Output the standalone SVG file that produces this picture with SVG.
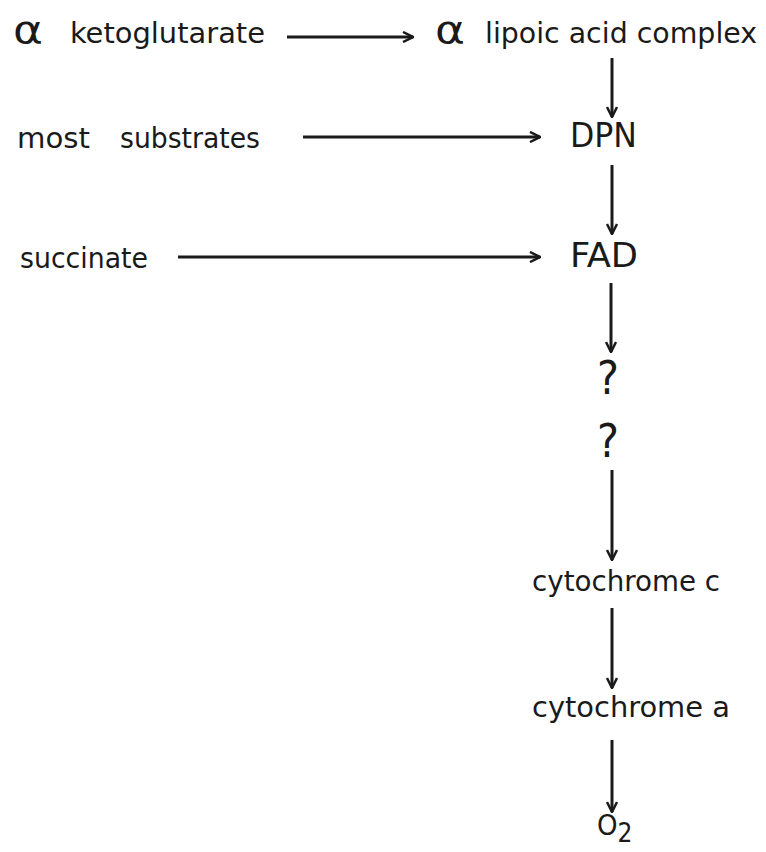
<svg xmlns="http://www.w3.org/2000/svg" width="766" height="852" viewBox="0 0 766 852">
<style>
text{font-family:"DejaVu Sans Condensed","DejaVu Sans","Liberation Sans",sans-serif;font-size:29px;fill:#1a1a1a}
.a{font-size:38px;font-family:"DejaVu Sans","Liberation Sans",sans-serif}
.cap{font-size:33px}
.q{font-size:46px}
.c line{stroke:#1a1a1a;stroke-width:3;fill:none}
</style>
<defs>
<marker id="ah" viewBox="0 0 12 12" refX="11" refY="6" markerWidth="12" markerHeight="12" markerUnits="userSpaceOnUse" orient="auto">
<path d="M1,1 L11,6 L1,11" fill="none" stroke="#1a1a1a" stroke-width="2.5"/>
</marker>
</defs>
<rect width="766" height="852" fill="#ffffff"/>
<g class="c" id="connectors">
<line x1="287" y1="37" x2="413" y2="37" marker-end="url(#ah)"/>
<line x1="612" y1="58" x2="612" y2="117" marker-end="url(#ah)"/>
<line x1="303" y1="137" x2="540" y2="137" marker-end="url(#ah)"/>
<line x1="612" y1="165" x2="612" y2="234" marker-end="url(#ah)"/>
<line x1="178" y1="257" x2="540" y2="257" marker-end="url(#ah)"/>
<line x1="611" y1="283" x2="611" y2="352" marker-end="url(#ah)"/>
<line x1="612" y1="470" x2="612" y2="560" marker-end="url(#ah)"/>
<line x1="612" y1="608" x2="612" y2="688" marker-end="url(#ah)"/>
<line x1="612" y1="740" x2="612" y2="812" marker-end="url(#ah)"/>
</g>
<g id="n-akg"><text x="13" y="43"><tspan class="a" textLength="30" lengthAdjust="spacingAndGlyphs">α</tspan> <tspan x="70" textLength="195" lengthAdjust="spacingAndGlyphs">ketoglutarate</tspan></text></g>
<g id="n-lipoic"><text x="435" y="43"><tspan class="a" textLength="30" lengthAdjust="spacingAndGlyphs">α</tspan> <tspan x="485" textLength="272" lengthAdjust="spacingAndGlyphs">lipoic acid complex</tspan></text></g>
<g id="n-most"><text x="17" y="148"><tspan textLength="73" lengthAdjust="spacingAndGlyphs">most</tspan> <tspan x="120" textLength="140" lengthAdjust="spacingAndGlyphs">substrates</tspan></text></g>
<g id="n-dpn"><text class="cap" x="570" y="147" textLength="67" lengthAdjust="spacingAndGlyphs">DPN</text></g>
<g id="n-succ"><text x="20" y="268" font-size="27" textLength="128" lengthAdjust="spacingAndGlyphs">succinate</text></g>
<g id="n-fad"><text class="cap" x="570" y="267" textLength="68" lengthAdjust="spacingAndGlyphs">FAD</text></g>
<g id="n-q1"><text class="q" x="608" y="394" text-anchor="middle">?</text></g>
<g id="n-q2"><text class="q" x="608" y="457" text-anchor="middle">?</text></g>
<g id="n-cytc"><text x="532" y="591" font-size="31" textLength="188" lengthAdjust="spacingAndGlyphs">cytochrome c</text></g>
<g id="n-cyta"><text x="532" y="717" font-size="31" textLength="198" lengthAdjust="spacingAndGlyphs">cytochrome a</text></g>
<g id="n-o2"><text x="597" y="835" font-size="25">O<tspan font-size="26" dy="7">2</tspan></text></g>
</svg>
